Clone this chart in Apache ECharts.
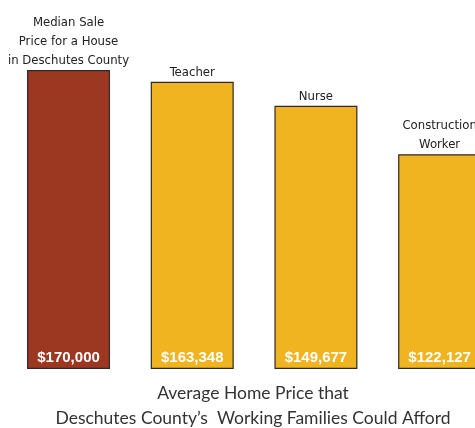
<!DOCTYPE html>
<html>
<head>
<meta charset="utf-8">
<script src="https://cdn.jsdelivr.net/npm/echarts@6/dist/echarts.min.js"></script>
<style>
  html, body { margin: 0; padding: 0; background: #fff; }
  #chart { width: 475px; height: 428px; }
</style>
</head>
<body>
<div id="chart"></div>
<script>
// data
const categories = ['Median Sale\nPrice for a House\nin Deschutes County', 'Teacher', 'Nurse', 'Construction\nWorker'];
const prices = [170000, 163348, 149677, 122127];
const barColors = ['#9c3722', '#efb420', '#efb420', '#efb420'];
const titleLines = ['Average Home Price that', 'Deschutes County\u2019s  Working Families Could Afford'];

const narrow = "'DejaVu Sans Condensed', sans-serif";

function money(v) {
    return '$' + v.toLocaleString('en-US');
}

// slot i sits at x = i; the last bar runs off the right edge,
// so the x range is cut at about 3.29 instead of 3.5
const slots = categories.map((c, i) => i);

const chart = echarts.init(document.getElementById('chart'));
chart.setOption({
    animation: false,
    grid: { left: 0, top: 70, bottom: 59, right: 0 },
    xAxis: {
        type: 'value',
        min: -0.554,
        max: 3.286,
        show: false
    },
    yAxis: {
        type: 'value',
        min: 0,
        max: 170000,
        show: false
    },
    graphic: [{
        type: 'text',
        x: 253,
        y: 381,
        style: {
            text: titleLines.join('\n'),
            align: 'center',
            font: "17.5px Lato, sans-serif",
            lineHeight: 25,
            fill: '#333'
        }
    }],
    series: [
        {
            // the bars, with the dollar value inside the bottom
            type: 'bar',
            barWidth: 83,
            data: slots.map(i => ({
                value: [i, prices[i]],
                itemStyle: { color: barColors[i] }
            })),
            itemStyle: { borderColor: '#2b2b2b', borderWidth: 1.2 },
            label: {
                show: true,
                position: 'insideBottom',
                distance: 4,
                color: '#fff',
                fontWeight: 'bold',
                fontSize: 15,
                fontFamily: "'Liberation Sans', Arial, sans-serif",
                formatter: p => money(p.value[1])
            }
        },
        {
            // invisible copy, only to put the category name on top
            type: 'bar',
            barWidth: 83,
            barGap: '-100%',
            data: slots.map(i => [i, prices[i]]),
            silent: true,
            itemStyle: { color: 'transparent' },
            label: {
                show: true,
                position: 'top',
                distance: 0,
                color: '#222',
                fontSize: 13,
                lineHeight: 19,
                fontFamily: narrow,
                formatter: p => categories[p.dataIndex]
            }
        }
    ]
});
</script>
</body>
</html>
